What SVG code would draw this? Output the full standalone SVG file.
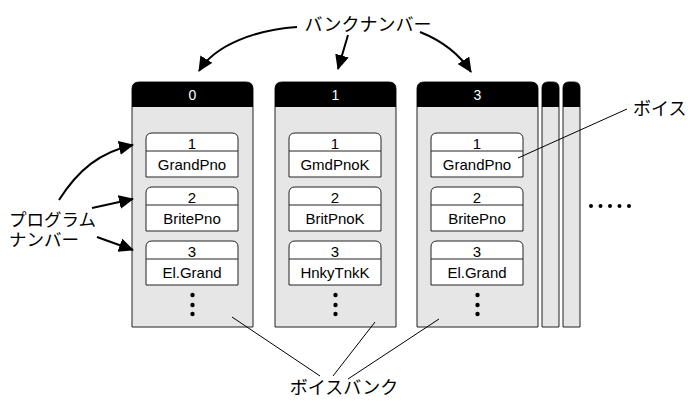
<svg xmlns="http://www.w3.org/2000/svg" width="688" height="401" viewBox="0 0 688 401">
<style>
.bank{fill:#e6e6e6;stroke:#222;stroke-width:1}
.hdr{fill:#000}
.card{fill:#fff;stroke:#222;stroke-width:1}
.div{stroke:#222;stroke-width:1}
.t{font-family:"Liberation Sans",Arial,sans-serif;font-size:15px;fill:#000;text-anchor:middle}
.h{font-family:"Liberation Sans",Arial,sans-serif;font-size:14px;fill:#fff;text-anchor:middle}
.j{font-family:"Noto Sans CJK JP",sans-serif;font-size:18px;fill:#000}
.arr{fill:none;stroke:#000;stroke-width:2;marker-end:url(#ah)}
.ln{fill:none;stroke:#000;stroke-width:1}
</style>
<defs>
<marker id="ah" markerUnits="userSpaceOnUse" markerWidth="16" markerHeight="14" viewBox="0 0 16 14" refX="14" refY="7" orient="auto">
<path d="M0,0 L15,7 L0,14 Z" fill="#000"/>
</marker>
<g id="cardTpl">
<path class="card" d="M0,44 V6 Q0,0 6,0 H86 Q92,0 92,6 V44 Z"/>
<line class="div" x1="0" y1="18" x2="92" y2="18"/>
</g>
</defs>

<g id="page-back2">
<path class="bank" d="M563,327 V88 Q563,82 569,82 H574 Q580,82 580,88 V327 Z"/>
<path class="hdr" d="M563,107 V88 Q563,82 569,82 H574 Q580,82 580,88 V107 Z"/>
</g>
<g id="page-back1">
<path class="bank" d="M542,327 V88 Q542,82 548,82 H553 Q559,82 559,88 V327 Z"/>
<path class="hdr" d="M542,107 V88 Q542,82 548,82 H553 Q559,82 559,88 V107 Z"/>
</g>

<g id="bank0" transform="translate(132,82)">
<path class="bank" d="M0,245 V7 Q0,0 7,0 H114 Q121,0 121,7 V245 Z"/>
<path class="hdr" d="M0,25 V7 Q0,0 7,0 H114 Q121,0 121,7 V25 Z"/>
<text class="h" x="60.5" y="18">0</text>
<g transform="translate(14,51)"><use href="#cardTpl"/><text class="t" x="46" y="16">1</text><text class="t" x="46" y="37">GrandPno</text></g>
<g transform="translate(14,105)"><use href="#cardTpl"/><text class="t" x="46" y="16">2</text><text class="t" x="46" y="37">BritePno</text></g>
<g transform="translate(14,159)"><use href="#cardTpl"/><text class="t" x="46" y="16">3</text><text class="t" x="46" y="37">El.Grand</text></g>
<circle cx="60.5" cy="213" r="2.2"/><circle cx="60.5" cy="223" r="2.2"/><circle cx="60.5" cy="232" r="2.2"/>
</g>

<g id="bank1" transform="translate(275,82)">
<path class="bank" d="M0,245 V7 Q0,0 7,0 H114 Q121,0 121,7 V245 Z"/>
<path class="hdr" d="M0,25 V7 Q0,0 7,0 H114 Q121,0 121,7 V25 Z"/>
<text class="h" x="60.5" y="18">1</text>
<g transform="translate(14,51)"><use href="#cardTpl"/><text class="t" x="46" y="16">1</text><text class="t" x="46" y="37">GmdPnoK</text></g>
<g transform="translate(14,105)"><use href="#cardTpl"/><text class="t" x="46" y="16">2</text><text class="t" x="46" y="37">BritPnoK</text></g>
<g transform="translate(14,159)"><use href="#cardTpl"/><text class="t" x="46" y="16">3</text><text class="t" x="46" y="37">HnkyTnkK</text></g>
<circle cx="60.5" cy="213" r="2.2"/><circle cx="60.5" cy="223" r="2.2"/><circle cx="60.5" cy="232" r="2.2"/>
</g>

<g id="bank3" transform="translate(417,82)">
<path class="bank" d="M0,245 V7 Q0,0 7,0 H114 Q121,0 121,7 V245 Z"/>
<path class="hdr" d="M0,25 V7 Q0,0 7,0 H114 Q121,0 121,7 V25 Z"/>
<text class="h" x="60.5" y="18">3</text>
<g transform="translate(14,51)"><use href="#cardTpl"/><text class="t" x="46" y="16">1</text><text class="t" x="46" y="37">GrandPno</text></g>
<g transform="translate(14,105)"><use href="#cardTpl"/><text class="t" x="46" y="16">2</text><text class="t" x="46" y="37">BritePno</text></g>
<g transform="translate(14,159)"><use href="#cardTpl"/><text class="t" x="46" y="16">3</text><text class="t" x="46" y="37">El.Grand</text></g>
<circle cx="60.5" cy="213" r="2.2"/><circle cx="60.5" cy="223" r="2.2"/><circle cx="60.5" cy="232" r="2.2"/>
</g>

<g id="ellipsis">
<circle cx="591" cy="206" r="2"/><circle cx="600.5" cy="206" r="2"/><circle cx="610" cy="206" r="2"/><circle cx="619.5" cy="206" r="2"/><circle cx="629" cy="206" r="2"/>
</g>

<g id="label-bank-number"><text class="j" x="368" y="31" text-anchor="middle">バンクナンバー</text></g>
<g id="label-voice"><text class="j" x="633" y="115">ボイス</text></g>
<g id="label-program-number"><text class="j" x="9" y="226" style="font-size:17.5px">プログラム</text><text class="j" x="9" y="246" style="font-size:17.5px">ナンバー</text></g>
<g id="label-voice-bank"><text class="j" x="344" y="394" text-anchor="middle">ボイスバンク</text></g>

<g id="connectors">
<path class="arr" d="M297,27 C255,30 215,45 199,71"/>
<path class="arr" d="M348,35 L338,69"/>
<path class="arr" d="M420,32 C445,42 460,55 471,72"/>
<path class="arr" d="M59,200 C78,170 100,152 133,145"/>
<path class="arr" d="M92,208 L133,199"/>
<path class="arr" d="M97,237 L133,250"/>
<line class="ln" x1="627" y1="109" x2="518" y2="158"/>
<line class="ln" x1="232" y1="317" x2="320" y2="376"/>
<line class="ln" x1="375" y1="322" x2="333" y2="376"/>
<line class="ln" x1="439" y1="319" x2="348" y2="379"/>
</g>
</svg>
